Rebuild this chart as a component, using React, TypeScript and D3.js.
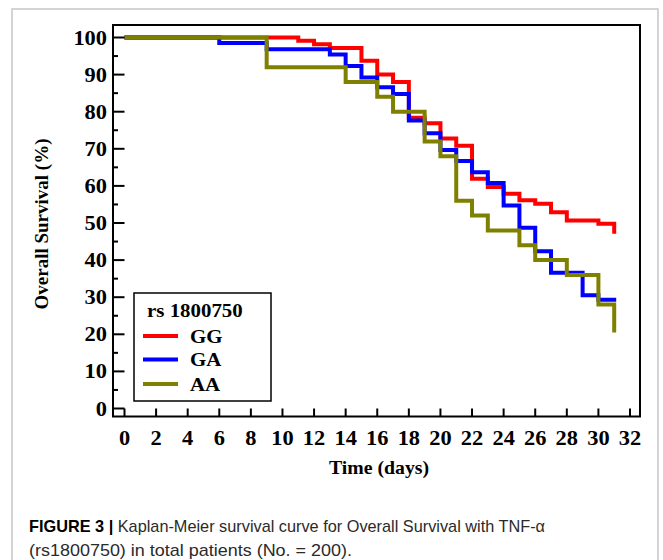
import * as d3 from "d3";

// Kaplan-Meier step points (day of event, survival %)
const ggDays = [0, 11, 12, 13, 15, 16, 17, 18, 19, 20, 21, 22, 23, 24, 25, 26, 27, 28, 30, 31];
const ggSurv = [100, 99.1, 98.2, 97.2, 93.7, 90.0, 88.0, 78.4, 76.9, 72.8, 70.8, 61.9, 59.7, 57.9, 56.1, 55.2, 52.9, 50.7, 49.8, 47.1];

const gaDays = [0, 6, 9, 13, 14, 15, 16, 17, 18, 19, 20, 21, 22, 23, 24, 25, 26, 27, 29, 30, 31];
const gaSurv = [100, 98.5, 96.8, 95.4, 92.3, 89.2, 86.6, 84.8, 77.6, 74.2, 69.7, 66.7, 63.7, 60.8, 54.7, 48.7, 42.4, 36.6, 30.5, 29.3, 28.8];

const aaDays = [0, 9, 14, 16, 17, 19, 20, 21, 22, 23, 25, 26, 28, 30, 31];
const aaSurv = [100, 92, 88, 84, 80, 72, 68, 56, 52, 48, 44, 40, 36, 28, 20.5];

const seriesNames = ["GG", "GA", "AA"];
const seriesColors = ["#ff0000", "#0000ff", "#808000"];

const xTicks = d3.range(0, 33, 2);
const yTicks = d3.range(0, 101, 10);
const yMinor = d3.range(5, 100, 10);

const serif = "'Liberation Serif', 'Times New Roman', serif";
const sans = "'Liberation Sans', Arial, sans-serif";

export default function App() {
  // plot frame
  const left = 113;
  const top = 25;
  const right = 640;
  const bottom = 416.5;

  const x = d3.scaleLinear().domain([0, 32]).range([124.5, 630]);
  const y = d3.scaleLinear().domain([0, 100]).range([408.5, 37.5]);

  const line = d3
    .line<[number, number]>()
    .x((d) => x(d[0]))
    .y((d) => y(d[1]))
    .curve(d3.curveStepAfter);

  const series = [
    d3.zip(ggDays, ggSurv) as [number, number][],
    d3.zip(gaDays, gaSurv) as [number, number][],
    d3.zip(aaDays, aaSurv) as [number, number][],
  ];

  const legendY = [336, 359.5, 384];

  return (
    <div style={{ position: "absolute", left: 0, top: 0 }}>
      <svg width={663} height={560} style={{ display: "block", background: "#fff" }}>
        {/* outer light frame */}
        <path d="M12,560 V9 H658 V560" fill="none" stroke="#c6c6c6" strokeWidth={1.5} />

        {/* curves */}
        {series.map((s, i) => (
          <path key={i} d={line(s) ?? ""} fill="none" stroke={seriesColors[i]} strokeWidth={4} />
        ))}

        {/* axis frame */}
        <rect x={left} y={top} width={right - left} height={bottom - top} fill="none" stroke="#000" strokeWidth={2} />

        {/* y ticks */}
        {yTicks.map((t) => (
          <g key={"y" + t}>
            <line x1={left} x2={left + 11.5} y1={y(t)} y2={y(t)} stroke="#000" strokeWidth={2} />
            <text
              transform={`translate(107,${y(t) + 7}) scale(1.12,1)`}
              textAnchor="end"
              fontFamily={serif}
              fontWeight="bold"
              fontSize={20}
            >
              {t}
            </text>
          </g>
        ))}
        {yMinor.map((t) => (
          <line key={"ym" + t} x1={left} x2={left + 5} y1={y(t)} y2={y(t)} stroke="#000" strokeWidth={2} />
        ))}

        {/* x ticks */}
        {xTicks.map((t) => (
          <g key={"x" + t}>
            <line x1={x(t)} x2={x(t)} y1={bottom} y2={bottom - 8} stroke="#000" strokeWidth={2} />
            <text
              transform={`translate(${x(t)},445) scale(1.12,1)`}
              textAnchor="middle"
              fontFamily={serif}
              fontWeight="bold"
              fontSize={20}
            >
              {t}
            </text>
          </g>
        ))}

        {/* axis titles */}
        <text
          transform="translate(379,474) scale(1.1,1)"
          textAnchor="middle"
          fontFamily={serif}
          fontWeight="bold"
          fontSize={18}
        >
          Time (days)
        </text>
        <text
          transform="translate(48,224) rotate(-90)"
          textAnchor="middle"
          fontFamily={serif}
          fontWeight="bold"
          fontSize={19}
        >
          Overall Survival (%)
        </text>

        {/* legend */}
        <rect x={134} y={293} width={137} height={108} fill="#fff" stroke="#000" strokeWidth={1.5} />
        <text transform="translate(147,317) scale(1.1,1)" fontFamily={serif} fontWeight="bold" fontSize={19}>
          rs 1800750
        </text>
        {seriesNames.map((n, i) => (
          <g key={n}>
            <line x1={143} x2={178} y1={legendY[i]} y2={legendY[i]} stroke={seriesColors[i]} strokeWidth={4} />
            <text
              transform={`translate(190,${legendY[i] + 6.5}) scale(1.1,1)`}
              fontFamily={serif}
              fontWeight="bold"
              fontSize={19}
            >
              {n}
            </text>
          </g>
        ))}

        {/* caption */}
        <text x={29} y={532} fontFamily={sans} fontSize={17} fill="#2a2a2a" textLength={516} lengthAdjust="spacingAndGlyphs">
          <tspan fontWeight="bold" fill="#000">FIGURE 3 | </tspan>
          Kaplan-Meier survival curve for Overall Survival with TNF-α
        </text>
        <text x={29} y={556} fontFamily={sans} fontSize={17} fill="#2a2a2a" textLength={323} lengthAdjust="spacingAndGlyphs">
          (rs1800750) in total patients (No. = 200).
        </text>
      </svg>
    </div>
  );
}
